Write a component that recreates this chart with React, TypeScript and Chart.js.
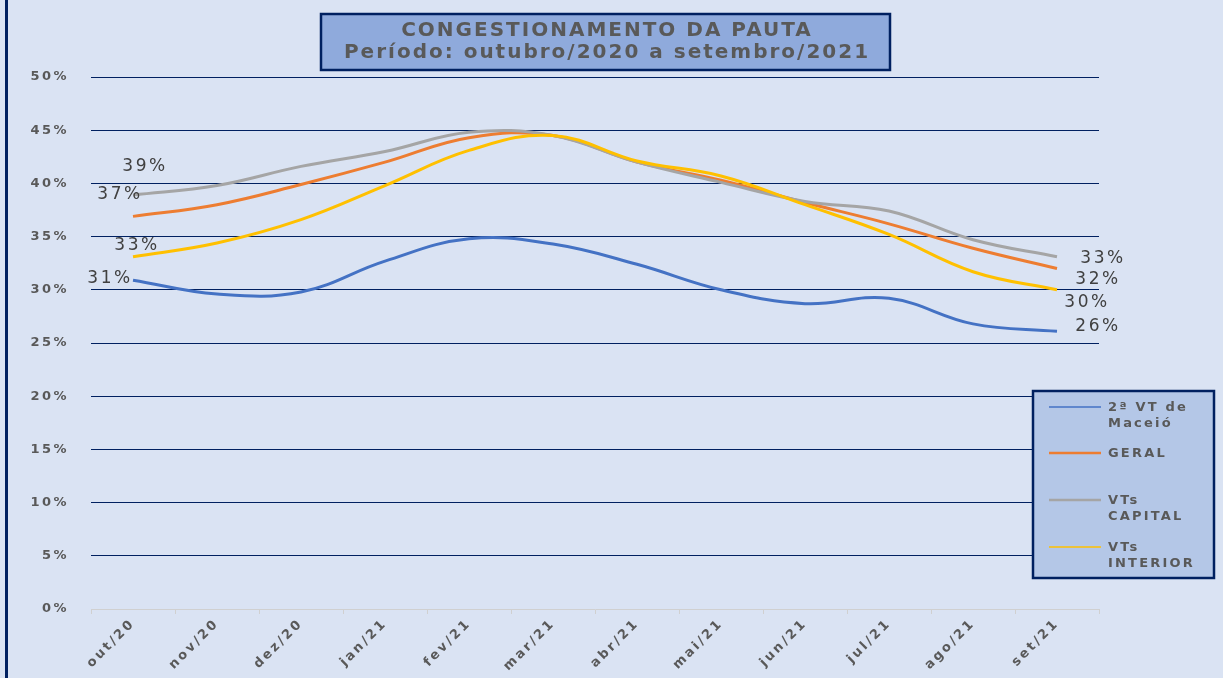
import React, { useEffect, useRef } from "react";
import { Chart, registerables } from "chart.js";

Chart.register(...registerables);

const categories = ["out/20", "nov/20", "dez/20", "jan/21", "fev/21", "mar/21", "abr/21", "mai/21", "jun/21", "jul/21", "ago/21", "set/21"];
const maceio = [30.9, 29.6, 29.8, 32.7, 34.8, 34.3, 32.4, 30.0, 28.7, 29.2, 26.8, 26.1];
const geral = [36.9, 38.0, 39.9, 42.0, 44.3, 44.5, 42.0, 40.3, 38.2, 36.2, 33.9, 32.0];
const capital = [38.9, 39.8, 41.6, 43.0, 44.8, 44.5, 42.0, 40.1, 38.3, 37.4, 34.7, 33.1];
const interior = [33.1, 34.4, 36.6, 39.8, 43.1, 44.5, 42.1, 40.7, 38.0, 35.2, 31.7, 30.0];
const seriesNames = ["2ª VT de Maceió", "GERAL", "VTs CAPITAL", "VTs INTERIOR"];
const legendLines = [["2ª VT de", "Maceió"], ["GERAL"], ["VTs", "CAPITAL"], ["VTs", "INTERIOR"]];
const titleLines = ["CONGESTIONAMENTO DA PAUTA", "Período: outubro/2020 a setembro/2021"];
const yMin = 0;
const yMax = 50;
const yStep = 5;

const colors = ["#4472c4", "#ed7d31", "#a5a5a5", "#ffc000"];
// [first label offset, last label offset] per series (style only)
const labelOffsets = [
  [[-23, -2], [41, -5]],
  [[-13, -22], [41, 11]],
  [[12, -29], [46, 2]],
  [[4, -11], [30, 13]],
];
const legendRows = [407, 453, 500, 547];
const legendSampleWidths = [1.5, 2.5, 2.5, 1.5];

const decorPlugin = {
  id: "decor",
  beforeDraw(chart: any) {
    const ctx = chart.ctx;
    ctx.save();
    ctx.fillStyle = "#dae3f3";
    ctx.fillRect(0, 0, chart.width, chart.height);
    ctx.fillStyle = "#002060";
    ctx.fillRect(5, 0, 3, chart.height);
    ctx.restore();
    ctx.letterSpacing = "2.5px";
  },
  afterDatasetsDraw(chart: any) {
    const ctx = chart.ctx;
    ctx.save();
    ctx.font = "17px 'DejaVu Sans'";
    ctx.letterSpacing = "2.5px";
    ctx.fillStyle = "#404040";
    ctx.textAlign = "center";
    ctx.textBaseline = "middle";
    chart.data.datasets.forEach((ds: any, i: number) => {
      const meta = chart.getDatasetMeta(i);
      const n = ds.data.length;
      [0, n - 1].forEach((idx, k) => {
        const pt = meta.data[idx];
        const off = labelOffsets[i][k];
        ctx.fillText(Math.round(ds.data[idx]) + "%", pt.x + off[0], pt.y + off[1]);
      });
    });
    ctx.restore();
  },
  afterDraw(chart: any) {
    const ctx = chart.ctx;
    ctx.save();
    // title box
    ctx.fillStyle = "#8faadc";
    ctx.fillRect(321, 14, 569, 56);
    ctx.strokeStyle = "#002060";
    ctx.lineWidth = 2.5;
    ctx.strokeRect(321, 14, 569, 56);
    ctx.fillStyle = "#595959";
    ctx.font = "bold 20px 'DejaVu Sans'";
    ctx.letterSpacing = "2px";
    ctx.textAlign = "center";
    ctx.textBaseline = "middle";
    ctx.fillText(titleLines[0], 607, 31);
    ctx.fillText(titleLines[1], 607, 53);

    // legend box
    ctx.fillStyle = "#b4c7e7";
    ctx.fillRect(1033, 391, 181, 187);
    ctx.strokeStyle = "#002060";
    ctx.lineWidth = 2.5;
    ctx.strokeRect(1033, 391, 181, 187);
    ctx.font = "bold 13px 'DejaVu Sans'";
    ctx.letterSpacing = "2.2px";
    ctx.textAlign = "left";
    ctx.textBaseline = "middle";
    chart.data.datasets.forEach((ds: any, i: number) => {
      const y = legendRows[i];
      ctx.strokeStyle = ds.borderColor;
      ctx.lineWidth = legendSampleWidths[i];
      ctx.beginPath();
      ctx.moveTo(1049, y);
      ctx.lineTo(1101, y);
      ctx.stroke();
      ctx.fillStyle = "#595959";
      legendLines[i].forEach((t, j) => ctx.fillText(t, 1108, y + 1 + j * 16));
    });
    ctx.restore();
  },
};

export default function App() {
  const ref = useRef<HTMLCanvasElement | null>(null);
  useEffect(() => {
    if (!ref.current) return;
    const series = [maceio, geral, capital, interior];
    const chart = new Chart(ref.current, {
      type: "line",
      data: {
        labels: categories,
        datasets: series.map((d, i) => ({
          label: seriesNames[i],
          data: d,
          borderColor: colors[i],
          backgroundColor: colors[i],
          borderWidth: 3,
          pointRadius: 0,
          tension: 0.4,
          fill: false,
          order: 3 - i,
        })),
      },
      options: {
        responsive: false,
        animation: false,
        layout: { padding: { top: 77, right: 124, bottom: 0, left: 0 } },
        plugins: {
          legend: { display: false },
          title: { display: false },
          tooltip: { enabled: false },
        },
        scales: {
          x: {
            offset: true,
            grid: {
              offset: true,
              drawOnChartArea: false,
              drawTicks: true,
              tickLength: 5,
              color: "#d0d0d0",
            },
            border: { color: "#d0d0d0", width: 1 },
            ticks: {
              maxRotation: 45,
              minRotation: 45,
              padding: 2,
              color: "#595959",
              font: { family: "'DejaVu Sans'", size: 13, weight: "bold" },
            },
            afterFit: (s: any) => {
              s.height = 69;
            },
          },
          y: {
            min: yMin,
            max: yMax,
            ticks: {
              stepSize: yStep,
              padding: 22,
              color: "#595959",
              font: { family: "'DejaVu Sans'", size: 13, weight: "bold" },
              callback: (v: any) => v + "%",
            },
            grid: {
              drawTicks: false,
              color: (c: any) => (c.tick && c.tick.value === 0 ? "rgba(0,0,0,0)" : "#002060"),
              lineWidth: 1,
            },
            border: { display: false },
            afterFit: (s: any) => {
              s.width = 91;
            },
          },
        },
      },
      plugins: [decorPlugin],
    });
    return () => chart.destroy();
  }, []);
  return (
    <div style={{ position: "fixed", left: 0, top: 0, width: 1223, height: 678, background: "#dae3f3" }}>
      <canvas ref={ref} width={1223} height={678} style={{ display: "block" }} />
    </div>
  );
}
